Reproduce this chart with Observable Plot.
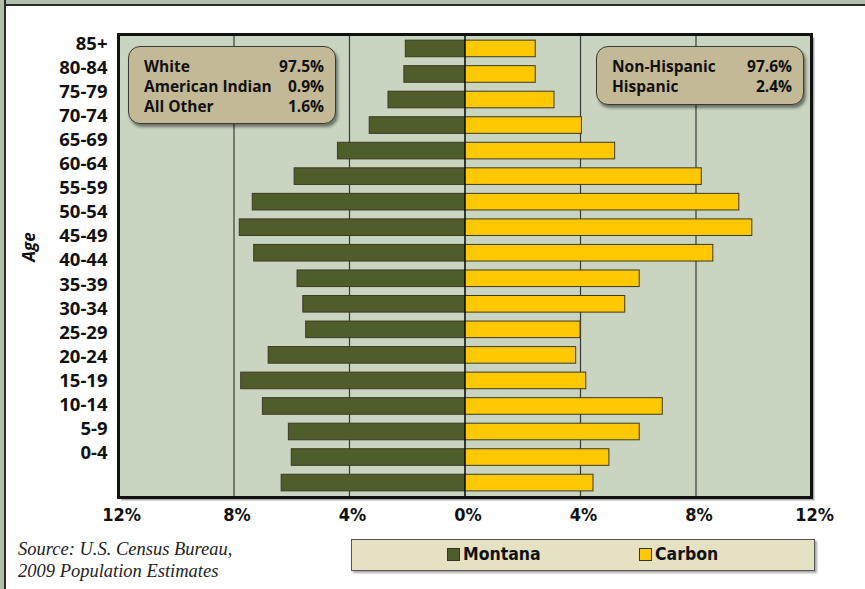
<!DOCTYPE html>
<html>
<head>
<meta charset="utf-8">
<script src="https://cdn.jsdelivr.net/npm/d3@7"></script>
<script src="https://cdn.jsdelivr.net/npm/@observablehq/plot@0.6"></script>
<style>
  html, body { margin: 0; padding: 0; background: #fff; }
  #wrap { position: relative; width: 865px; height: 589px; overflow: hidden; background: #fff; }
  #edgeTop { position: absolute; left: 0; top: 0; width: 865px; height: 4px; background: #b3bfaa; border-bottom: 2px solid #2b2b2b; }
  #edgeLeft { position: absolute; left: 0; top: 0; width: 4px; height: 589px; background: #b3bfaa; border-right: 2px solid #2b2b2b; }
  #main, #ylab { position: absolute; left: 0; top: 0; }
  .box { position: absolute; background: #c4b997; border: 1.5px solid #3a3a30; border-radius: 12px;
         box-shadow: 2px 3px 3px rgba(0,0,0,0.45); font-family: "Open Sans", sans-serif; font-weight: 700;
         font-size: 15.5px; color: #111; box-sizing: border-box; }
  .row { display: flex; justify-content: space-between; line-height: 20px; }
  #ageLab { position: absolute; left: 28px; top: 247px; transform: translate(-50%, -50%) rotate(-90deg);
            font-family: "Open Sans", sans-serif; font-weight: 700; font-style: italic; font-size: 17px; color: #111; }
  #source { position: absolute; left: 18px; top: 538px; font-family: "Liberation Serif", serif; font-style: italic;
            font-size: 18.5px; line-height: 22px; color: #222; }
  #legend { position: absolute; left: 351px; top: 539px; width: 464px; height: 32px; box-sizing: border-box;
            background: #e5e1c3; border: 1.5px solid #555; box-shadow: 2px 2px 2px rgba(0,0,0,0.35);
            font-family: "DejaVu Sans Condensed", sans-serif; font-weight: 700; font-size: 17.5px; color: #111; }
  .lg { position: absolute; top: 4px; display: flex; align-items: center; }
  .sw { width: 11px; height: 11px; border: 1px solid #333; margin-right: 3px; }
</style>
</head>
<body>
<div id="wrap">
  <div id="edgeTop"></div>
  <div id="edgeLeft"></div>
</div>
<script>
const ages = ["85+","80-84","75-79","70-74","65-69","60-64","55-59","50-54","45-49","40-44","35-39","30-34","25-29","20-24","15-19","10-14","5-9","0-4"];
const montana = [2.05,2.1,2.65,3.3,4.4,5.9,7.35,7.8,7.3,5.8,5.6,5.5,6.8,7.75,7.0,6.1,6.0,6.35];
const carbon  = [2.45,2.45,3.1,4.05,5.2,8.2,9.5,9.95,8.6,6.05,5.55,4.0,3.85,4.2,6.85,6.05,5.0,4.45];
const xTicks = [-12,-8,-4,0,4,8,12];
const gridTicks = [-8,-4,4,8];
const seriesNames = ["Montana","Carbon"];
const seriesColors = ["#4f5d2b","#ffc800"];
const raceLabels = ["White","American Indian","All Other"];
const raceValues = ["97.5%","0.9%","1.6%"];
const ethLabels = ["Non-Hispanic","Hispanic"];
const ethValues = ["97.6%","2.4%"];
const sourceLines = ["Source: U.S. Census Bureau,","2009 Population Estimates"];

const rows = [];
ages.forEach((a, i) => {
  rows.push({age: a, series: "Montana", value: -montana[i]});
  rows.push({age: a, series: "Carbon", value: carbon[i]});
});

const wrap = document.getElementById("wrap");

const main = Plot.plot({
  width: 865, height: 530,
  marginLeft: 118, marginRight: 54, marginTop: 34, marginBottom: 33,
  style: {background: "transparent", fontFamily: "'DejaVu Sans Condensed', sans-serif"},
  x: {domain: [-12, 12], label: null},
  y: {type: "band", domain: ages, paddingInner: 0.35, paddingOuter: 0.24, round: false, label: null},
  color: {domain: seriesNames, range: seriesColors},
  marks: [
    Plot.frame({fill: "#555", fillOpacity: 0.5, stroke: null, dx: 3, dy: 3}),
    Plot.frame({fill: "#c9d4c1", stroke: null}),
    Plot.ruleX(gridTicks, {stroke: "#3a3a3a", strokeWidth: 1.2}),
    Plot.barX(rows, {x: "value", y: "age", fill: "series", stroke: "#3b3b22", strokeWidth: 1}),
    Plot.ruleX([0], {stroke: "#111", strokeWidth: 1.6}),
    Plot.frame({stroke: "#111", strokeWidth: 3}),
    Plot.axisX({ticks: xTicks, tickFormat: d => Math.abs(d) + "%", tickSize: 0, tickPadding: 11, dx: 3,
                fontSize: 18, fontWeight: "bold", fill: "#111", label: null}),
    Plot.axisY({ticks: [], label: null})
  ]
});
main.id = "main";
wrap.appendChild(main);

const ylab = Plot.plot({
  width: 120, height: 530,
  marginLeft: 110, marginRight: 5, marginTop: 0, marginBottom: 0,
  style: {background: "transparent", fontFamily: "'Open Sans', sans-serif"},
  y: {type: "point", domain: ages, range: [43.5, 452.5], padding: 0, round: false, label: null},
  marks: [
    Plot.axisY({tickSize: 0, tickPadding: 3, fontSize: 18.5, fontWeight: "bold", fill: "#111", label: null})
  ]
});
ylab.id = "ylab";
wrap.appendChild(ylab);

function makeBox(left, top, width, height, labels, values) {
  const b = document.createElement("div");
  b.className = "box";
  Object.assign(b.style, {left: left + "px", top: top + "px", width: width + "px", height: height + "px",
                          padding: "9px 11px 0 15px"});
  labels.forEach((l, i) => {
    const r = document.createElement("div");
    r.className = "row";
    const a = document.createElement("span"); a.textContent = l;
    const v = document.createElement("span"); v.textContent = values[i];
    r.appendChild(a); r.appendChild(v); b.appendChild(r);
  });
  wrap.appendChild(b);
}
makeBox(128, 46, 208, 78, raceLabels, raceValues);
makeBox(596, 46, 208, 59, ethLabels, ethValues);

const age = document.createElement("div");
age.id = "ageLab"; age.textContent = "Age";
wrap.appendChild(age);

const src = document.createElement("div");
src.id = "source";
src.innerHTML = sourceLines.map(s => "<div>" + s + "</div>").join("");
wrap.appendChild(src);

const lg = document.createElement("div");
lg.id = "legend";
const lgLeft = [95, 287];
seriesNames.forEach((s, i) => {
  const it = document.createElement("div");
  it.className = "lg";
  it.style.left = lgLeft[i] + "px";
  const sw = document.createElement("div");
  sw.className = "sw"; sw.style.background = seriesColors[i];
  const t = document.createElement("span"); t.textContent = s;
  it.appendChild(sw); it.appendChild(t);
  lg.appendChild(it);
});
wrap.appendChild(lg);
</script>
</body>
</html>
